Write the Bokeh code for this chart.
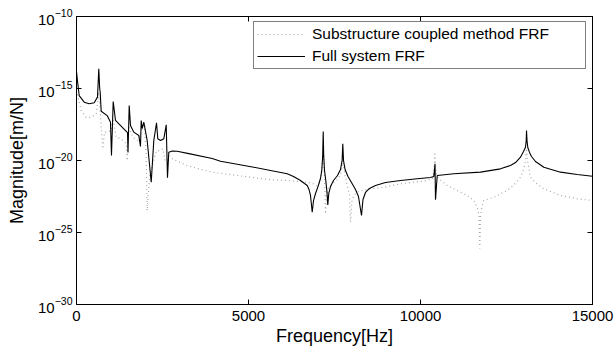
from bokeh.plotting import figure
from bokeh.models import (Range1d, FixedTicker, LinearAxis, LogAxis, Legend, LegendItem,
                          ColumnDataSource, BasicTickFormatter, LogTickFormatter,
                          CustomJSTickFormatter)
from bokeh.embed import file_html
from bokeh.resources import INLINE

# ---- data (frequency in Hz, magnitude as log10 of m/N) ----
full_freq = [0, 29, 78, 224, 369, 515, 610, 648, 674, 689,
             718, 892, 988, 1017, 1067, 1134, 1375, 1483, 1497, 1532,
             1570, 1666, 1811, 1860, 1881, 1910, 1956, 2055, 2172, 2247,
             2326, 2363, 2442, 2538, 2608, 2645, 2683, 2782, 2927, 3265,
             3945, 4186, 5154, 6125, 6308, 6512, 6628, 6707, 6759, 6802,
             6852, 6890, 6948, 7020, 7093, 7131, 7157, 7172, 7186, 7209,
             7247, 7282, 7305, 7334, 7384, 7471, 7587, 7674, 7721, 7741,
             7762, 7808, 7892, 7994, 8110, 8197, 8285, 8328, 8401, 8517,
             8692, 8982, 9418, 9904, 10291, 10387, 10422, 10436, 10486, 10968,
             11744, 12325, 12616, 12762, 12907, 12994, 13052, 13073, 13082, 13096,
             13119, 13169, 13227, 13343, 13585, 14070, 14555, 15000]
full_log = [-13.82, -14.49, -15.49, -15.95, -16.06, -15.99, -15.60, -13.63, -15.0, -15.26,
            -16.58, -16.88, -17.34, -19.65, -15.90, -17.22, -17.80, -18.06, -19.44, -16.18,
            -17.57, -18.03, -18.26, -19.03, -17.22, -17.78, -17.34, -18.61, -21.51, -18.61,
            -17.38, -18.49, -18.61, -18.49, -17.52, -21.20, -19.42, -19.34, -19.36, -19.52,
            -19.86, -20.05, -20.47, -20.92, -21.11, -21.39, -21.60, -21.74, -22.01, -22.43,
            -23.59, -22.78, -22.29, -21.81, -21.25, -20.69, -19.65, -17.99, -19.65, -20.69,
            -21.39, -22.22, -23.08, -22.29, -21.81, -21.39, -21.04, -20.63, -20.0, -18.84,
            -20.0, -20.63, -21.11, -21.53, -22.01, -22.50, -23.82, -22.71, -22.22, -21.94,
            -21.74, -21.53, -21.39, -21.27, -21.18, -21.11, -20.23, -22.73, -21.04, -20.92,
            -20.81, -20.58, -20.35, -20.14, -19.77, -19.38, -19.08, -18.61, -17.92, -18.61,
            -19.10, -19.44, -19.72, -20.07, -20.47, -20.81, -20.97, -21.09]

sub_freq = [0, 137, 282, 427, 573, 625, 640, 669, 718, 765,
            814, 910, 1009, 1061, 1154, 1299, 1445, 1474, 1520, 1637,
            1782, 1846, 1881, 1919, 1977, 2026, 2055, 2122, 2267, 2326,
            2413, 2509, 2578, 2666, 2782, 2927, 3218, 3555, 3945, 4672,
            5640, 6125, 6707, 6861, 6997, 7064, 7116, 7151, 7172, 7192,
            7215, 7238, 7267, 7326, 7442, 7587, 7674, 7721, 7741, 7762,
            7808, 7878, 7936, 7965, 8008, 8081, 8197, 8450, 8933, 9418,
            10195, 10349, 10393, 10417, 10443, 10486, 10777, 10968, 11358, 11550,
            11649, 11701, 11724, 11744, 11788, 11840, 12131, 12520, 12712, 12907,
            13008, 13052, 13082, 13110, 13198, 13343, 13585, 14070, 14555, 15000]
sub_log = [-15.14, -16.53, -17.0, -17.0, -16.76, -15.83, -15.26, -15.83, -17.69, -19.19,
           -18.03, -18.03, -17.92, -17.08, -18.38, -18.49, -18.84, -20.0, -17.69, -18.38,
           -18.61, -18.26, -17.92, -17.78, -17.45, -19.77, -23.47, -21.16, -19.77, -19.31,
           -19.31, -19.19, -20.0, -20.0, -19.88, -20.05, -20.35, -20.58, -20.81, -21.04,
           -21.34, -21.39, -21.51, -21.60, -21.77, -21.53, -20.83, -20.0, -18.96, -20.0,
           -21.39, -23.70, -22.43, -21.94, -21.60, -21.32, -20.97, -20.42, -19.72, -20.42,
           -21.04, -21.81, -22.43, -24.28, -22.78, -22.36, -22.15, -22.01, -21.85, -21.62,
           -21.39, -21.25, -20.69, -19.42, -20.69, -21.16, -21.74, -21.97, -22.43, -22.78,
           -23.24, -23.82, -26.11, -23.82, -23.19, -22.78, -22.55, -22.08, -21.71, -21.16,
           -20.56, -20.0, -19.17, -20.0, -21.16, -21.53, -21.97, -22.43, -22.66, -22.78]

x_ticks = [0, 5000, 10000, 15000]
y_ticks = [1e-30, 1e-25, 1e-20, 1e-15, 1e-10]
labels = ["Substructure coupled method FRF", "Full system FRF"]
x_label = "Frequency[Hz]"
y_label = "Magnitude[m/N]"

FONT = "Liberation Sans"

full_src = ColumnDataSource(dict(x=full_freq, y=[10.0 ** v for v in full_log]))
sub_src = ColumnDataSource(dict(x=sub_freq, y=[10.0 ** v for v in sub_log]))

p = figure(width=614, height=348, output_backend="svg", toolbar_location=None,
           y_axis_type="log", x_range=Range1d(0, 15000), y_range=Range1d(1e-30, 1e-10),
           min_border_left=76, min_border_right=22, min_border_top=16, min_border_bottom=44)
p.background_fill_color = "white"
p.border_fill_color = "white"
p.outline_line_color = "black"
p.outline_line_width = 1
p.xgrid.visible = False
p.ygrid.visible = False

r_sub = p.line("x", "y", source=sub_src, line_color="#a8a8a8", line_width=1.2, line_dash="1 3")
r_full = p.line("x", "y", source=full_src, line_color="black", line_width=1.1)

def style_axis(ax):
    ax.axis_line_color = "black"
    ax.major_tick_line_color = "black"
    ax.major_tick_in = 5
    ax.major_tick_out = 0
    ax.minor_tick_line_color = None
    ax.major_label_text_font = FONT
    ax.major_label_text_color = "black"
    ax.axis_label_text_font = FONT
    ax.axis_label_text_font_style = "normal"
    ax.axis_label_text_color = "black"

xa = p.xaxis[0]
xa.ticker = FixedTicker(ticks=x_ticks)
xa.formatter = BasicTickFormatter(use_scientific=False)
style_axis(xa)
xa.major_label_text_font_size = "15px"
xa.major_label_standoff = 6
xa.axis_label = x_label
xa.axis_label_text_font_size = "18px"
xa.axis_label_standoff = 2

ya = p.yaxis[0]
ya.ticker = FixedTicker(ticks=y_ticks)
ya.formatter = LogTickFormatter()
style_axis(ya)
ya.major_label_text_font_size = "15px"
ya.major_label_standoff = 4
ya.axis_label = y_label
ya.axis_label_text_font_size = "18px"
ya.axis_label_standoff = 8

# mirrored tick marks (no labels) on top and right, like a boxed axes frame
top = LinearAxis(ticker=FixedTicker(ticks=x_ticks),
                 formatter=CustomJSTickFormatter(code="return ' ';"))
style_axis(top)
top.major_label_text_font_size = "1px"
top.major_label_standoff = 0
p.add_layout(top, "above")
right = LogAxis(ticker=FixedTicker(ticks=y_ticks),
                formatter=CustomJSTickFormatter(code="return ' ';"))
style_axis(right)
right.major_label_text_font_size = "1px"
right.major_label_standoff = 0
p.add_layout(right, "right")

legend = Legend(items=[LegendItem(label=labels[0], renderers=[r_sub]),
                       LegendItem(label=labels[1], renderers=[r_full])],
                location=(177, 235), orientation="vertical")
legend.margin = 0
legend.padding = 3
legend.spacing = 4
legend.glyph_width = 48
legend.glyph_height = 18
legend.label_height = 18
legend.label_width = 270
legend.label_standoff = 7
legend.label_text_font = FONT
legend.label_text_font_size = "15.5px"
legend.label_text_color = "black"
legend.border_line_color = "black"
legend.border_line_width = 1
legend.background_fill_color = "white"
legend.background_fill_alpha = 1.0
p.add_layout(legend)

open("out.html", "w").write(file_html(p, INLINE))
